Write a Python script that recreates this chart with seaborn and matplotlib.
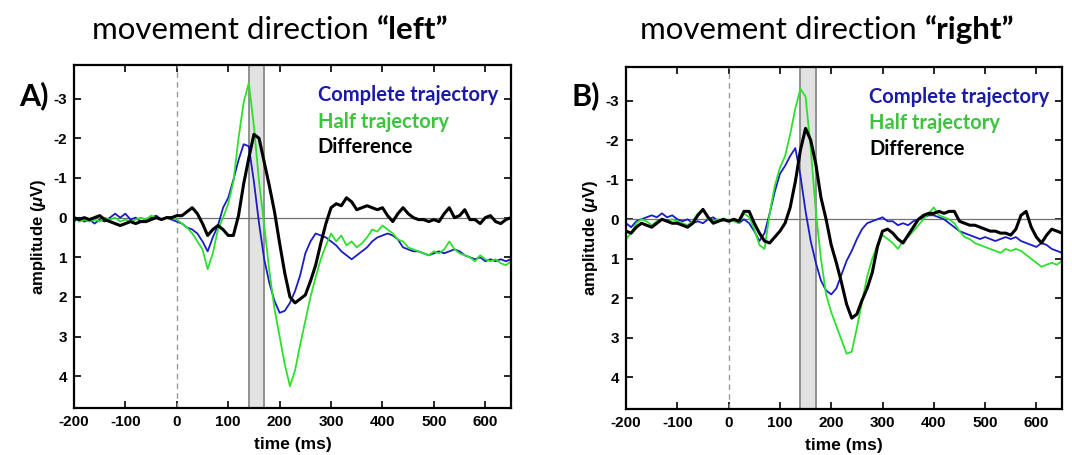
import numpy as np
import pandas as pd
import matplotlib
matplotlib.use("Agg")
import matplotlib.pyplot as plt
import seaborn as sns

# ---------------- data (10 ms steps) ----------------
time_ms = list(range(-200, 651, 10))

left_complete = [0.1, 0.0, 0.1, 0.05, 0.15, 0.05, 0.1, 0.0, -0.1, 0.0,
                 -0.1, 0.05, 0.0, 0.1, 0.05, 0.0, -0.05, 0.05, 0.0, 0.05,
                 0.1, 0.15, 0.25, 0.3, 0.4, 0.6, 0.85, 0.5, 0.2, -0.25,
                 -0.5, -0.95, -1.45, -1.85, -1.8, -0.9, 0.15, 1.05, 1.65, 2.1,
                 2.4, 2.35, 2.15, 1.85, 1.45, 0.9, 0.6, 0.4, 0.45, 0.5,
                 0.6, 0.7, 0.85, 0.95, 1.05, 0.95, 0.85, 0.75, 0.6, 0.5,
                 0.45, 0.4, 0.45, 0.55, 0.75, 0.8, 0.85, 0.85, 0.9, 0.95,
                 0.9, 0.85, 0.9, 0.85, 0.8, 0.85, 0.95, 1.0, 1.05, 1.0,
                 1.1, 1.05, 1.1, 1.05, 1.1, 1.05]
left_half = [0.0, 0.1, 0.05, 0.1, 0.05, 0.1, 0.0, 0.05, 0.0, 0.1,
             0.05, 0.1, 0.05, 0.0, 0.05, -0.05, 0.0, 0.05, 0.0, 0.0,
             0.05, 0.15, 0.25, 0.4, 0.6, 0.8, 1.3, 0.9, 0.3, 0.0,
             -0.35, -0.9, -2.0, -2.9, -3.4, -2.3, -0.9, 0.2, 1.35, 2.3,
             3.0, 3.7, 4.25, 3.85, 3.2, 2.6, 2.0, 1.5, 1.05, 0.7,
             0.4, 0.6, 0.45, 0.7, 0.6, 0.75, 0.65, 0.5, 0.3, 0.35,
             0.2, 0.3, 0.4, 0.55, 0.6, 0.75, 0.8, 0.85, 0.9, 0.95,
             0.85, 0.9, 0.8, 0.6, 0.8, 0.9, 0.95, 1.0, 1.1, 0.95,
             1.05, 1.1, 1.05, 1.15, 1.2, 1.1]
left_difference = [0.0, 0.05, 0.0, 0.05, 0.0, -0.05, 0.05, 0.1, 0.15, 0.2,
                   0.15, 0.1, 0.15, 0.1, 0.1, 0.05, 0.0, 0.05, 0.0, 0.0,
                   -0.05, -0.05, -0.15, -0.25, -0.1, 0.15, 0.45, 0.3, 0.2, 0.3,
                   0.45, 0.45, -0.05, -0.85, -1.5, -2.1, -2.0, -1.4, -0.8, -0.15,
                   0.65, 1.4, 2.0, 2.15, 2.05, 1.95, 1.6, 1.2, 0.65, 0.15,
                   -0.25, -0.35, -0.3, -0.5, -0.4, -0.2, -0.25, -0.3, -0.25, -0.2,
                   -0.25, -0.05, 0.1, -0.1, -0.25, -0.1, 0.0, 0.05, 0.05, 0.1,
                   0.05, 0.1, -0.1, -0.25, 0.0, -0.05, -0.2, 0.05, 0.05, 0.15,
                   0.0, -0.05, 0.1, 0.15, 0.05, 0.0]

right_complete = [0.1, 0.2, 0.05, 0.0, -0.05, -0.1, -0.05, -0.15, -0.05, -0.1,
                  0.0, 0.05, 0.0, 0.1, 0.05, 0.1, 0.0, -0.05, 0.05, 0.0,
                  0.05, 0.0, 0.1, 0.0, 0.1, 0.3, 0.55, 0.35, -0.15, -0.7,
                  -1.15, -1.35, -1.6, -1.8, -1.1, -0.2, 0.55, 1.1, 1.55, 1.8,
                  1.9, 1.75, 1.4, 1.05, 0.8, 0.5, 0.25, 0.1, 0.05, 0.0,
                  -0.05, 0.05, 0.05, 0.15, 0.1, 0.15, 0.05, 0.0, -0.05, -0.1,
                  -0.1, -0.05, 0.0, 0.1, 0.2, 0.3, 0.35, 0.4, 0.45, 0.5,
                  0.45, 0.5, 0.55, 0.5, 0.45, 0.5, 0.45, 0.55, 0.6, 0.65,
                  0.7, 0.6, 0.65, 0.75, 0.8, 0.85]
right_half = [0.5, 0.35, 0.1, 0.0, 0.05, 0.15, 0.05, 0.0, 0.05, 0.0,
              0.05, 0.1, 0.15, 0.05, -0.15, -0.25, 0.0, 0.05, 0.0, 0.05,
              0.0, 0.05, 0.1, -0.15, -0.05, 0.25, 0.65, 0.75, -0.15, -0.85,
              -1.3, -1.6, -2.15, -2.8, -3.3, -3.1, -1.8, -0.2, 1.0, 1.9,
              2.35, 2.7, 3.05, 3.4, 3.35, 2.75, 2.1, 1.45, 1.0, 0.65,
              0.4, 0.5, 0.6, 0.75, 0.55, 0.45, 0.3, 0.15, 0.0, -0.15,
              -0.3, -0.1, -0.05, 0.0, 0.1, 0.3, 0.45, 0.5, 0.6, 0.65,
              0.7, 0.75, 0.8, 0.85, 0.75, 0.8, 0.75, 0.8, 0.9, 1.0,
              1.1, 1.2, 1.15, 1.1, 1.15, 1.05]
right_difference = [0.3, 0.35, 0.2, 0.1, 0.15, 0.2, 0.1, 0.0, 0.05, 0.1,
                    0.1, 0.15, 0.2, 0.1, -0.1, -0.25, -0.05, 0.1, 0.05, 0.0,
                    0.05, 0.0, 0.05, -0.2, -0.2, 0.1, 0.35, 0.55, 0.6, 0.45,
                    0.3, 0.1, -0.3, -0.95, -1.75, -2.3, -2.0, -1.4, -0.55, 0.0,
                    0.65, 1.1, 1.6, 2.15, 2.5, 2.4, 2.05, 1.75, 1.35, 0.7,
                    0.3, 0.25, 0.35, 0.5, 0.6, 0.4, 0.2, 0.0, -0.1, -0.15,
                    -0.15, -0.2, -0.15, -0.2, -0.2, 0.05, 0.1, 0.15, 0.15, 0.2,
                    0.25, 0.3, 0.3, 0.35, 0.35, 0.4, 0.25, -0.1, -0.2, 0.2,
                    0.45, 0.6, 0.4, 0.25, 0.3, 0.35]

series_names = ["Complete trajectory", "Half trajectory", "Difference"]
panel_titles = ["left", "right"]
panel_letters = ["A)", "B)"]
x_ticks = [-200, -100, 0, 100, 200, 300, 400, 500, 600]
y_ticks = [-3, -2, -1, 0, 1, 2, 3, 4]
window = (140, 170)

# ---------------- styling ----------------
sns.set_style("ticks")
plt.rcParams["font.family"] = ["Liberation Sans", "DejaVu Sans"]
plt.rcParams["mathtext.fontset"] = "custom"
plt.rcParams["mathtext.it"] = "Liberation Sans:italic:bold"
plt.rcParams["mathtext.rm"] = "Liberation Sans:bold"
for key in ["text.color", "axes.labelcolor", "xtick.color", "ytick.color"]:
    plt.rcParams[key] = "black"

palette = {"Complete trajectory": "#1c1cc4",
           "Half trajectory": "#2ee02e",
           "Difference": "#000000"}
legend_colors = {"Complete trajectory": "#1a1aa6",
                 "Half trajectory": "#3cc43c",
                 "Difference": "#000000"}
widths = {"Complete trajectory": 1.3, "Half trajectory": 1.3, "Difference": 2.2}

fig = plt.figure(figsize=(10.72, 4.55), dpi=100)
axes = [fig.add_axes([0.069, 0.1033, 0.4077, 0.754]),
        fig.add_axes([0.584, 0.101, 0.4067, 0.7516])]

panels = [(left_complete, left_half, left_difference),
          (right_complete, right_half, right_difference)]

for ax, vals, title, letter in zip(axes, panels, panel_titles, panel_letters):
    df = pd.DataFrame({
        "time": time_ms * 3,
        "amp": list(vals[0]) + list(vals[1]) + list(vals[2]),
        "series": [s for s in series_names for _ in time_ms],
    })
    ax.axvspan(window[0], window[1], facecolor="#e2e2e2", edgecolor="none", zorder=0)
    ax.axvline(window[0], color="#8a8a8a", lw=1.3, zorder=1)
    ax.axvline(window[1], color="#8a8a8a", lw=1.3, zorder=1)
    ax.axhline(0, color="#707070", lw=0.9, zorder=1)
    ax.axvline(0, color="#9a9a9a", lw=1.0, ls=(0, (4, 3)), zorder=1)
    for s in series_names:
        sns.lineplot(data=df[df["series"] == s], x="time", y="amp",
                     color=palette[s], lw=widths[s], ax=ax, legend=False,
                     zorder=3 if s == "Difference" else 2)
    ax.set_xlim(-200, 650)
    ax.set_ylim(4.8, -3.85)
    ax.set_xticks(x_ticks)
    ax.set_xticklabels([str(t) for t in x_ticks], fontweight="bold", fontsize=11)
    ax.set_yticks(y_ticks)
    ax.set_yticklabels([str(t) for t in y_ticks], fontweight="bold", fontsize=11)
    ax.tick_params(direction="in", length=5, width=1.2, top=True, right=True, pad=5,
                   colors="black")
    for sp in ax.spines.values():
        sp.set_visible(True)
        sp.set_linewidth(1.6)
        sp.set_color("black")
    ax.set_xlabel("time (ms)", fontweight="bold", fontsize=12.5, labelpad=6,
                  color="black")
    ax.set_ylabel(r"amplitude ($\mathit{\mu}$V)", fontweight="bold", fontsize=12,
                  labelpad=4, color="black")

    # colored text legend
    ys = [0.913, 0.835, 0.76]
    for s, yy in zip(series_names, ys):
        ax.text(0.558, yy, s, transform=ax.transAxes, color=legend_colors[s],
                fontsize=14.5, fontweight="bold", family=["Lato", "DejaVu Sans"],
                va="center", ha="left")

    # panel letter
    bb = ax.get_position()
    fig.text(bb.x0 - 0.051, 0.79, letter, fontsize=22, fontweight="bold",
             family=["Lato", "DejaVu Sans"], va="center", ha="left", color="black")

# titles: regular part + bold quoted part
fig.canvas.draw()
renderer = fig.canvas.get_renderer()
title_centers = [270 / 1072, 827 / 1072]
for cx, word in zip(title_centers, panel_titles):
    t1 = fig.text(0, 0.935, "movement direction ", fontsize=22.5, color="black",
                  family=["Lato", "DejaVu Sans"], va="center", ha="left")
    t2 = fig.text(0, 0.935, "\u201c" + word + "\u201d", fontsize=22.5, fontweight="bold",
                  color="black", family=["Lato", "DejaVu Sans"], va="center", ha="left")
    w1 = t1.get_window_extent(renderer).width / fig.bbox.width
    w2 = t2.get_window_extent(renderer).width / fig.bbox.width
    x0 = cx - (w1 + w2) / 2
    t1.set_x(x0)
    t2.set_x(x0 + w1)

fig.savefig("out.png", dpi=100)
